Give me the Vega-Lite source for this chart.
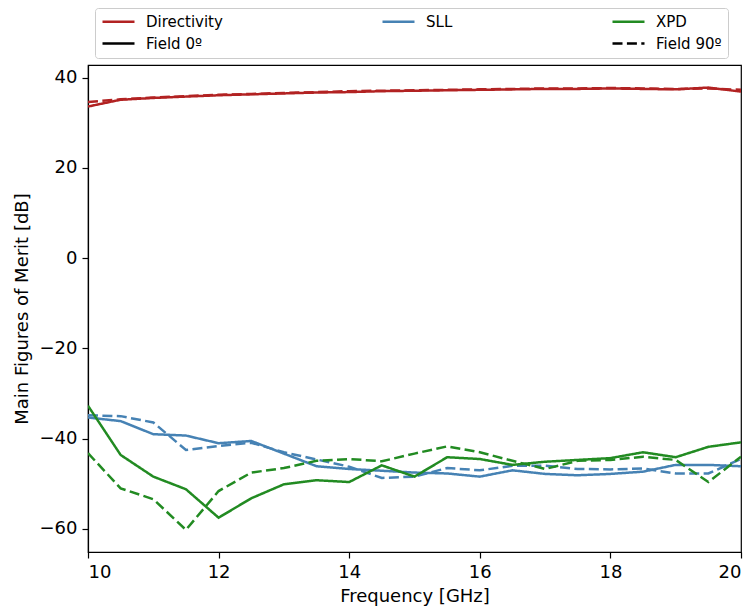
{
  "$schema": "https://vega.github.io/schema/vega-lite/v6.json",
  "width": 653,
  "height": 487,
  "autosize": {"type": "none"},
  "padding": {"left": 88, "top": 65, "right": 12, "bottom": 55},
  "background": "white",
  "config": {
    "font": "DejaVu Sans",
    "view": {"stroke": "#000000", "strokeWidth": 1.2},
    "axis": {
      "grid": false,
      "domainColor": "#000000",
      "domainWidth": 1.2,
      "tickColor": "#000000",
      "tickWidth": 1.2,
      "tickSize": 6,
      "labelColor": "#000000",
      "labelFont": "DejaVu Sans",
      "labelFontSize": 18,
      "labelPadding": 5,
      "titleColor": "#000000",
      "titleFont": "DejaVu Sans",
      "titleFontSize": 18,
      "titleFontWeight": "normal"
    }
  },
  "data": {
    "values": [
      {"f": 10, "metric": "Directivity", "field": "Field 0º", "v": 33.6},
      {"f": 10.5, "metric": "Directivity", "field": "Field 0º", "v": 35.1},
      {"f": 11, "metric": "Directivity", "field": "Field 0º", "v": 35.5},
      {"f": 11.5, "metric": "Directivity", "field": "Field 0º", "v": 35.8},
      {"f": 12, "metric": "Directivity", "field": "Field 0º", "v": 36.1},
      {"f": 12.5, "metric": "Directivity", "field": "Field 0º", "v": 36.3},
      {"f": 13, "metric": "Directivity", "field": "Field 0º", "v": 36.5},
      {"f": 13.5, "metric": "Directivity", "field": "Field 0º", "v": 36.7},
      {"f": 14, "metric": "Directivity", "field": "Field 0º", "v": 36.8},
      {"f": 14.5, "metric": "Directivity", "field": "Field 0º", "v": 37.0},
      {"f": 15, "metric": "Directivity", "field": "Field 0º", "v": 37.1},
      {"f": 15.5, "metric": "Directivity", "field": "Field 0º", "v": 37.2},
      {"f": 16, "metric": "Directivity", "field": "Field 0º", "v": 37.3},
      {"f": 16.5, "metric": "Directivity", "field": "Field 0º", "v": 37.4},
      {"f": 17, "metric": "Directivity", "field": "Field 0º", "v": 37.5},
      {"f": 17.5, "metric": "Directivity", "field": "Field 0º", "v": 37.5},
      {"f": 18, "metric": "Directivity", "field": "Field 0º", "v": 37.6},
      {"f": 18.5, "metric": "Directivity", "field": "Field 0º", "v": 37.5},
      {"f": 19, "metric": "Directivity", "field": "Field 0º", "v": 37.4},
      {"f": 19.5, "metric": "Directivity", "field": "Field 0º", "v": 37.8},
      {"f": 20, "metric": "Directivity", "field": "Field 0º", "v": 36.9},

      {"f": 10, "metric": "Directivity", "field": "Field 90º", "v": 34.6},
      {"f": 10.5, "metric": "Directivity", "field": "Field 90º", "v": 35.2},
      {"f": 11, "metric": "Directivity", "field": "Field 90º", "v": 35.6},
      {"f": 11.5, "metric": "Directivity", "field": "Field 90º", "v": 35.9},
      {"f": 12, "metric": "Directivity", "field": "Field 90º", "v": 36.2},
      {"f": 12.5, "metric": "Directivity", "field": "Field 90º", "v": 36.4},
      {"f": 13, "metric": "Directivity", "field": "Field 90º", "v": 36.6},
      {"f": 13.5, "metric": "Directivity", "field": "Field 90º", "v": 36.8},
      {"f": 14, "metric": "Directivity", "field": "Field 90º", "v": 37.0},
      {"f": 14.5, "metric": "Directivity", "field": "Field 90º", "v": 37.1},
      {"f": 15, "metric": "Directivity", "field": "Field 90º", "v": 37.2},
      {"f": 15.5, "metric": "Directivity", "field": "Field 90º", "v": 37.3},
      {"f": 16, "metric": "Directivity", "field": "Field 90º", "v": 37.4},
      {"f": 16.5, "metric": "Directivity", "field": "Field 90º", "v": 37.5},
      {"f": 17, "metric": "Directivity", "field": "Field 90º", "v": 37.6},
      {"f": 17.5, "metric": "Directivity", "field": "Field 90º", "v": 37.6},
      {"f": 18, "metric": "Directivity", "field": "Field 90º", "v": 37.7},
      {"f": 18.5, "metric": "Directivity", "field": "Field 90º", "v": 37.6},
      {"f": 19, "metric": "Directivity", "field": "Field 90º", "v": 37.5},
      {"f": 19.5, "metric": "Directivity", "field": "Field 90º", "v": 37.6},
      {"f": 20, "metric": "Directivity", "field": "Field 90º", "v": 37.3},

      {"f": 10, "metric": "SLL", "field": "Field 0º", "v": -35.3},
      {"f": 10.5, "metric": "SLL", "field": "Field 0º", "v": -36.1},
      {"f": 11, "metric": "SLL", "field": "Field 0º", "v": -39.0},
      {"f": 11.5, "metric": "SLL", "field": "Field 0º", "v": -39.3},
      {"f": 12, "metric": "SLL", "field": "Field 0º", "v": -41.0},
      {"f": 12.5, "metric": "SLL", "field": "Field 0º", "v": -40.5},
      {"f": 13, "metric": "SLL", "field": "Field 0º", "v": -43.3},
      {"f": 13.5, "metric": "SLL", "field": "Field 0º", "v": -46.1},
      {"f": 14, "metric": "SLL", "field": "Field 0º", "v": -46.7},
      {"f": 14.5, "metric": "SLL", "field": "Field 0º", "v": -47.1},
      {"f": 15, "metric": "SLL", "field": "Field 0º", "v": -47.5},
      {"f": 15.5, "metric": "SLL", "field": "Field 0º", "v": -47.7},
      {"f": 16, "metric": "SLL", "field": "Field 0º", "v": -48.4},
      {"f": 16.5, "metric": "SLL", "field": "Field 0º", "v": -47.0},
      {"f": 17, "metric": "SLL", "field": "Field 0º", "v": -47.8},
      {"f": 17.5, "metric": "SLL", "field": "Field 0º", "v": -48.1},
      {"f": 18, "metric": "SLL", "field": "Field 0º", "v": -47.8},
      {"f": 18.5, "metric": "SLL", "field": "Field 0º", "v": -47.3},
      {"f": 19, "metric": "SLL", "field": "Field 0º", "v": -45.8},
      {"f": 19.5, "metric": "SLL", "field": "Field 0º", "v": -45.8},
      {"f": 20, "metric": "SLL", "field": "Field 0º", "v": -46.1},

      {"f": 10, "metric": "SLL", "field": "Field 90º", "v": -34.8},
      {"f": 10.5, "metric": "SLL", "field": "Field 90º", "v": -35.0},
      {"f": 11, "metric": "SLL", "field": "Field 90º", "v": -36.4},
      {"f": 11.5, "metric": "SLL", "field": "Field 90º", "v": -42.5},
      {"f": 12, "metric": "SLL", "field": "Field 90º", "v": -41.6},
      {"f": 12.5, "metric": "SLL", "field": "Field 90º", "v": -40.9},
      {"f": 13, "metric": "SLL", "field": "Field 90º", "v": -43.0},
      {"f": 13.5, "metric": "SLL", "field": "Field 90º", "v": -44.6},
      {"f": 14, "metric": "SLL", "field": "Field 90º", "v": -46.2},
      {"f": 14.5, "metric": "SLL", "field": "Field 90º", "v": -48.7},
      {"f": 15, "metric": "SLL", "field": "Field 90º", "v": -48.4},
      {"f": 15.5, "metric": "SLL", "field": "Field 90º", "v": -46.5},
      {"f": 16, "metric": "SLL", "field": "Field 90º", "v": -47.0},
      {"f": 16.5, "metric": "SLL", "field": "Field 90º", "v": -46.0},
      {"f": 17, "metric": "SLL", "field": "Field 90º", "v": -46.0},
      {"f": 17.5, "metric": "SLL", "field": "Field 90º", "v": -46.7},
      {"f": 18, "metric": "SLL", "field": "Field 90º", "v": -46.8},
      {"f": 18.5, "metric": "SLL", "field": "Field 90º", "v": -46.6},
      {"f": 19, "metric": "SLL", "field": "Field 90º", "v": -47.7},
      {"f": 19.5, "metric": "SLL", "field": "Field 90º", "v": -47.7},
      {"f": 20, "metric": "SLL", "field": "Field 90º", "v": -44.5},

      {"f": 10, "metric": "XPD", "field": "Field 0º", "v": -32.7},
      {"f": 10.5, "metric": "XPD", "field": "Field 0º", "v": -43.6},
      {"f": 11, "metric": "XPD", "field": "Field 0º", "v": -48.4},
      {"f": 11.5, "metric": "XPD", "field": "Field 0º", "v": -51.2},
      {"f": 12, "metric": "XPD", "field": "Field 0º", "v": -57.5},
      {"f": 12.5, "metric": "XPD", "field": "Field 0º", "v": -53.2},
      {"f": 13, "metric": "XPD", "field": "Field 0º", "v": -50.1},
      {"f": 13.5, "metric": "XPD", "field": "Field 0º", "v": -49.2},
      {"f": 14, "metric": "XPD", "field": "Field 0º", "v": -49.6},
      {"f": 14.5, "metric": "XPD", "field": "Field 0º", "v": -45.9},
      {"f": 15, "metric": "XPD", "field": "Field 0º", "v": -48.4},
      {"f": 15.5, "metric": "XPD", "field": "Field 0º", "v": -44.1},
      {"f": 16, "metric": "XPD", "field": "Field 0º", "v": -44.5},
      {"f": 16.5, "metric": "XPD", "field": "Field 0º", "v": -45.8},
      {"f": 17, "metric": "XPD", "field": "Field 0º", "v": -45.1},
      {"f": 17.5, "metric": "XPD", "field": "Field 0º", "v": -44.7},
      {"f": 18, "metric": "XPD", "field": "Field 0º", "v": -44.3},
      {"f": 18.5, "metric": "XPD", "field": "Field 0º", "v": -43.0},
      {"f": 19, "metric": "XPD", "field": "Field 0º", "v": -44.1},
      {"f": 19.5, "metric": "XPD", "field": "Field 0º", "v": -41.8},
      {"f": 20, "metric": "XPD", "field": "Field 0º", "v": -40.8},

      {"f": 10, "metric": "XPD", "field": "Field 90º", "v": -43.2},
      {"f": 10.5, "metric": "XPD", "field": "Field 90º", "v": -51.0},
      {"f": 11, "metric": "XPD", "field": "Field 90º", "v": -53.4},
      {"f": 11.5, "metric": "XPD", "field": "Field 90º", "v": -60.2},
      {"f": 12, "metric": "XPD", "field": "Field 90º", "v": -51.6},
      {"f": 12.5, "metric": "XPD", "field": "Field 90º", "v": -47.5},
      {"f": 13, "metric": "XPD", "field": "Field 90º", "v": -46.5},
      {"f": 13.5, "metric": "XPD", "field": "Field 90º", "v": -44.9},
      {"f": 14, "metric": "XPD", "field": "Field 90º", "v": -44.5},
      {"f": 14.5, "metric": "XPD", "field": "Field 90º", "v": -45.0},
      {"f": 15, "metric": "XPD", "field": "Field 90º", "v": -43.3},
      {"f": 15.5, "metric": "XPD", "field": "Field 90º", "v": -41.7},
      {"f": 16, "metric": "XPD", "field": "Field 90º", "v": -43.0},
      {"f": 16.5, "metric": "XPD", "field": "Field 90º", "v": -44.9},
      {"f": 17, "metric": "XPD", "field": "Field 90º", "v": -46.7},
      {"f": 17.5, "metric": "XPD", "field": "Field 90º", "v": -44.9},
      {"f": 18, "metric": "XPD", "field": "Field 90º", "v": -44.7},
      {"f": 18.5, "metric": "XPD", "field": "Field 90º", "v": -44.0},
      {"f": 19, "metric": "XPD", "field": "Field 90º", "v": -44.7},
      {"f": 19.5, "metric": "XPD", "field": "Field 90º", "v": -49.6},
      {"f": 20, "metric": "XPD", "field": "Field 90º", "v": -44.0}
    ]
  },
  "mark": {"type": "line", "strokeWidth": 2.5, "clip": true},
  "encoding": {
    "x": {
      "field": "f",
      "type": "quantitative",
      "scale": {"domain": [10, 20], "nice": false, "zero": false},
      "axis": {"values": [10, 12, 14, 16, 18, 20], "title": "Frequency [GHz]", "titlePadding": 6}
    },
    "y": {
      "field": "v",
      "type": "quantitative",
      "scale": {"domain": [-65.1, 42.8], "nice": false, "zero": false},
      "axis": {"values": [-60, -40, -20, 0, 20, 40], "title": "Main Figures of Merit [dB]", "titlePadding": 8}
    },
    "color": {
      "field": "metric",
      "type": "nominal",
      "scale": {
        "domain": ["Directivity", "SLL", "XPD", "Field 0º", "_", "Field 90º"],
        "range": ["#b22222", "#4682b4", "#228b22", "#000000", "rgba(0,0,0,0)", "#000000"]
      },
      "legend": {
        "title": null,
        "orient": "none",
        "legendX": 7,
        "legendY": -57,
        "direction": "horizontal",
        "columns": 3,
        "columnPadding": 158,
        "rowPadding": 6,
        "clipHeight": 15,
        "symbolType": "stroke",
        "symbolSize": 1024,
        "symbolStrokeWidth": 2.5,
        "labelFont": "DejaVu Sans",
        "labelFontSize": 15,
        "labelColor": "#000000",
        "labelOffset": 10,
        "labelExpr": "datum.label == '_' ? '' : datum.label",
        "padding": 6,
        "strokeColor": "#cccccc",
        "fillColor": "#ffffff",
        "cornerRadius": 3,
        "encode": {
          "symbols": {
            "update": {
              "strokeDash": {"signal": "datum.value == 'Field 90º' ? [10, 4.4] : [1, 0]"}
            }
          }
        }
      }
    },
    "strokeDash": {
      "field": "field",
      "type": "nominal",
      "scale": {"domain": ["Field 0º", "Field 90º"], "range": [[1, 0], [10, 4.4]]},
      "legend": null
    }
  }
}
